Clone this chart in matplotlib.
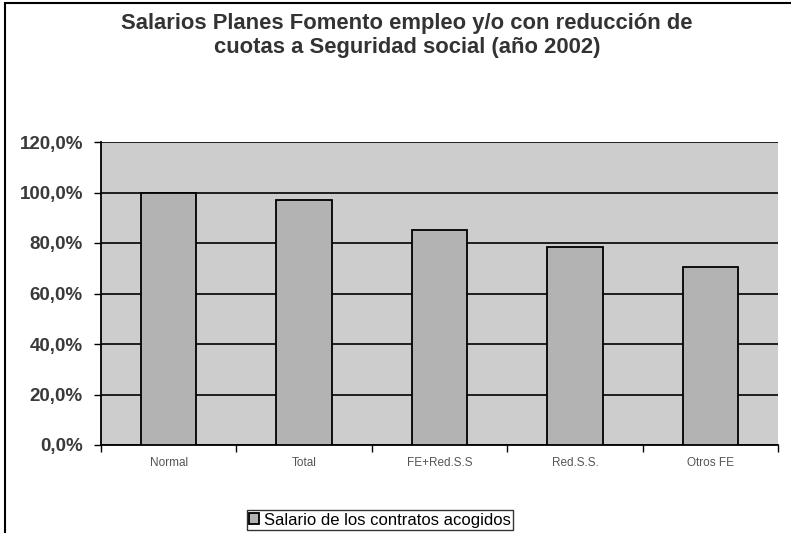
import matplotlib.pyplot as plt
from matplotlib.patches import Rectangle
from matplotlib.ticker import FixedLocator

categories = ["Normal", "Total", "FE+Red.S.S", "Red.S.S.", "Otros FE"]
salario = [100.0, 97.0, 85.0, 78.5, 70.5]
yticks = [0, 20, 40, 60, 80, 100, 120]
ytick_labels = ["0,0%", "20,0%", "40,0%", "60,0%", "80,0%", "100,0%", "120,0%"]

plt.rcParams["font.family"] = ["Liberation Sans", "DejaVu Sans"]

fig = plt.figure(figsize=(7.91, 5.33), dpi=100)
ax = fig.add_axes([101 / 791, 1 - 445 / 533, 677 / 791, 303 / 533])
ax.set_facecolor("#cdcdcd")

x = range(len(categories))
ax.bar(x, salario, width=0.41, color="#b3b3b3", edgecolor="black", linewidth=1.3,
       zorder=3, label="Salario de los contratos acogidos")

ax.set_xlim(-0.5, len(categories) - 0.5)
ax.set_ylim(0, 120)
ax.set_yticks(yticks)
ax.set_yticklabels(ytick_labels, fontsize=13.5, fontweight="bold", color="#3a3a3a")
ax.yaxis.grid(True, color="black", linewidth=1.2, zorder=1)
ax.set_xticks(list(x))
ax.set_xticklabels(categories, fontsize=8.5, color="#555555")
ax.tick_params(axis="x", length=0, pad=9)
ax.xaxis.set_minor_locator(FixedLocator([i - 0.5 for i in range(len(categories) + 1)]))
ax.tick_params(axis="x", which="minor", length=5, direction="out", width=1)
ax.tick_params(axis="y", length=5, direction="out", width=1, pad=8)
for side in ["top", "right"]:
    ax.spines[side].set_visible(False)
ax.spines["left"].set_linewidth(1.3)
ax.spines["bottom"].set_linewidth(1.3)

fig.text(407 / 791, 1 - 23 / 533, "Salarios Planes Fomento empleo y/o con reducción de",
         ha="center", va="center", fontsize=15.8, fontweight="bold", color="#333333")
fig.text(407 / 791, 1 - 48 / 533, "cuotas a Seguridad social (año 2002)",
         ha="center", va="center", fontsize=15.8, fontweight="bold", color="#333333")

fig.legend(loc="center", bbox_to_anchor=(380 / 791, 1 - 520 / 533), fontsize=12,
           frameon=True, fancybox=False, edgecolor="black", handlelength=0.6,
           handleheight=0.6, borderpad=0.15, handletextpad=0.3)

fig.add_artist(Rectangle((5 / 791, -0.01), 1.0, 1 - 3 / 533 + 0.01,
                         transform=fig.transFigure, fill=False,
                         edgecolor="black", linewidth=1.5))

fig.savefig("out.png", dpi=100)
